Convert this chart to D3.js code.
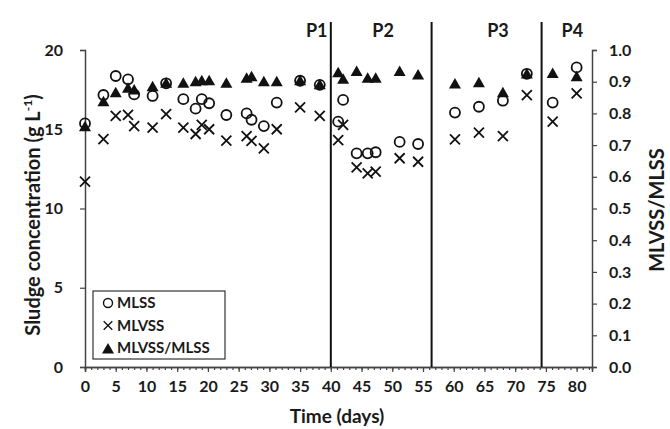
<!DOCTYPE html>
<html>
<head>
<meta charset="utf-8">
<script src="https://cdn.jsdelivr.net/npm/d3@7"></script>
<style>
  body { margin: 0; background: #fff; }
  text { font-family: Lato, "Open Sans", sans-serif; font-weight: bold; fill: #1a1a1a; }
</style>
</head>
<body>
<div id="chart"></div>
<script>
var svgwidth = 670;
var svgheight = 429;

// sampling days and measured values
var days   = [0, 3, 5, 7, 8, 11, 13.2, 16, 18, 19, 20.2, 23, 26.3, 27.1, 29.1, 31.2, 35, 38.2,
              41.2, 42, 44.2, 46, 47.3, 51.2, 54.2, 60.2, 64.1, 68, 71.9, 76.1, 80];
var mlss   = [15.37, 17.16, 18.36, 18.15, 17.2, 17.1, 17.9, 16.9, 16.3, 16.9, 16.64, 15.9, 16.0, 15.6, 15.2, 16.68, 18.06, 17.8,
              15.48, 16.85, 13.48, 13.48, 13.55, 14.2, 14.07, 16.05, 16.42, 16.8, 18.5, 16.68, 18.9];
var mlvss  = [11.69, 14.37, 15.84, 15.9, 15.2, 15.1, 15.96, 15.1, 14.7, 15.27, 15.0, 14.28, 14.57, 14.26, 13.8, 15.0, 16.38, 15.84,
              14.32, 15.27, 12.6, 12.22, 12.32, 13.17, 12.95, 14.36, 14.78, 14.57, 17.16, 15.48, 17.27];
var ratio  = [0.758, 0.837, 0.865, 0.879, 0.874, 0.884, 0.895, 0.895, 0.900, 0.903, 0.903, 0.895, 0.911, 0.916, 0.900, 0.900, 0.903, 0.890,
              0.928, 0.908, 0.932, 0.911, 0.911, 0.932, 0.921, 0.893, 0.897, 0.865, 0.924, 0.926, 0.916];

var phaseBounds = [40, 56.4, 74.3];
var phaseNames = ["P1", "P2", "P3", "P4"];
var phaseLabelDays = [37.7, 48.5, 67.2, 79.3];

var xTicks = d3.range(0, 81, 5);
var yTicks = [0, 5, 10, 15, 20];
var rTicks = d3.range(0, 1.01, 0.1);

var legendNames = ["MLSS", "MLVSS", "MLVSS/MLSS"];

var svg = d3.select("#chart")
            .append("svg")
            .attr("width", svgwidth)
            .attr("height", svgheight);

var xscale = d3.scaleLinear().domain([0, 82.5]).range([85, 592]);
var yscale = d3.scaleLinear().domain([0, 20]).range([367, 50]);
var rscale = d3.scaleLinear().domain([0, 1]).range([367, 50]);

// axes
var xaxis = d3.axisBottom(xscale).tickValues(xTicks).tickSize(5).tickPadding(9);
var xminor = d3.axisBottom(xscale).tickValues(d3.range(0, 83, 1)).tickSize(3).tickFormat("");
var yaxis = d3.axisLeft(yscale).tickValues(yTicks).tickSize(5).tickPadding(17);
var raxis = d3.axisRight(rscale).tickValues(rTicks).tickSize(5).tickPadding(12).tickFormat(d3.format(".1f"));

function styleAxis(g) {
    g.select(".domain").attr("stroke", "#444").attr("stroke-width", 1.5);
    g.selectAll(".tick line").attr("stroke", "#444").attr("stroke-width", 1.2);
    g.selectAll(".tick text").style("font-size", "16px").style("font-family", "Lato").style("font-weight", "bold").attr("fill", "#1a1a1a");
}

svg.append("g").attr("transform", "translate(0,367)").call(xminor).call(styleAxis);
svg.append("g").attr("transform", "translate(0,367)").call(xaxis).call(styleAxis);
svg.append("g").attr("transform", "translate(85,0)").call(yaxis).call(styleAxis);
svg.append("g").attr("transform", "translate(592,0)").call(raxis).call(styleAxis);

// phase separators
svg.append("g")
    .selectAll("line")
    .data(phaseBounds)
    .join("line")
    .attr("x1", d => xscale(d)).attr("x2", d => xscale(d))
    .attr("y1", 22).attr("y2", 367)
    .attr("stroke", "#111").attr("stroke-width", 2);

svg.append("g")
    .selectAll("text")
    .data(phaseNames)
    .join("text")
    .attr("x", (d, i) => xscale(phaseLabelDays[i]))
    .attr("y", 37)
    .attr("text-anchor", "middle")
    .style("font-size", "18px")
    .text(d => d);

// titles
svg.append("text")
    .attr("transform", "translate(337,423)")
    .style("text-anchor", "middle")
    .style("font-size", "19px")
    .text("Time (days)");

svg.append("text")
    .attr("transform", "translate(40,215) rotate(-90)")
    .style("text-anchor", "middle")
    .style("font-size", "20px")
    .html("Sludge concentration (g L<tspan dy='-8' font-size='12px'>-1</tspan><tspan dy='8'>)</tspan>");

svg.append("text")
    .attr("transform", "translate(664,210) rotate(-90)")
    .style("text-anchor", "middle")
    .style("font-size", "20px")
    .text("MLVSS/MLSS");

var pts = days.map((d, i) => ({ day: d, mlss: mlss[i], mlvss: mlvss[i], ratio: ratio[i] }));

function triPath(cx, cy) {
    return "M" + cx + "," + (cy - 6) + "L" + (cx + 6) + "," + (cy + 4.5) + "L" + (cx - 6) + "," + (cy + 4.5) + "Z";
}
function crossPath(cx, cy, s) {
    s = s || 5;
    return "M" + (cx - s) + "," + (cy - s) + "L" + (cx + s) + "," + (cy + s) +
           "M" + (cx - s) + "," + (cy + s) + "L" + (cx + s) + "," + (cy - s);
}

var g = svg.append("g");

g.append("g")
    .selectAll("path")
    .data(pts)
    .join("path")
    .attr("d", d => crossPath(xscale(d.day), yscale(d.mlvss)))
    .attr("stroke", "#111").attr("stroke-width", 1.8).attr("fill", "none");

g.append("g")
    .selectAll("path")
    .data(pts)
    .join("path")
    .attr("d", d => triPath(xscale(d.day), rscale(d.ratio)))
    .attr("fill", "#111");

g.append("g")
    .selectAll("circle")
    .data(pts)
    .join("circle")
    .attr("cx", d => xscale(d.day))
    .attr("cy", d => yscale(d.mlss))
    .attr("r", 5)
    .attr("fill", "none")
    .attr("stroke", "#111").attr("stroke-width", 1.8);

// legend
var leg = svg.append("g").attr("transform", "translate(93,291)");
leg.append("rect").attr("width", 132).attr("height", 68)
    .attr("fill", "#fff").attr("stroke", "#333").attr("stroke-width", 1.2);

var rows = leg.selectAll("g.row").data(legendNames).join("g")
    .attr("class", "row")
    .attr("transform", (d, i) => "translate(0," + (12 + i * 22.5) + ")");

rows.each(function(d, i) {
    var r = d3.select(this);
    if (i === 0) r.append("circle").attr("cx", 15).attr("cy", 0).attr("r", 4.5).attr("fill", "none").attr("stroke", "#111").attr("stroke-width", 1.4);
    if (i === 1) r.append("path").attr("d", crossPath(15, 0, 4.3)).attr("stroke", "#111").attr("stroke-width", 1.3);
    if (i === 2) r.append("path").attr("d", triPath(15, 1)).attr("fill", "#111");
});

rows.append("text")
    .attr("x", 24).attr("y", 0).attr("dy", "0.35em")
    .style("font-size", "15px")
    .text(d => d);
</script>
</body>
</html>
